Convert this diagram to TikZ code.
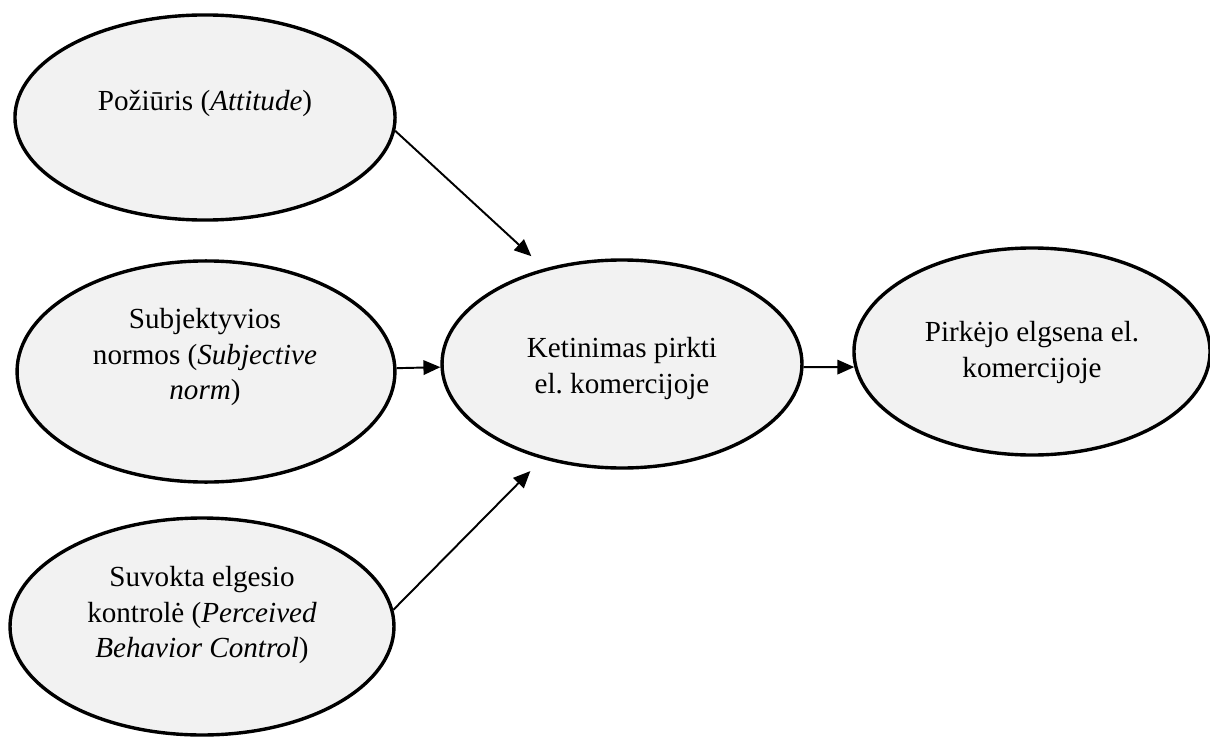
\documentclass[tikz,border=0pt]{standalone}
\usepackage{fontspec}
\setmainfont{Liberation Serif}
\usepackage{xcolor}
\usepackage{tikz}
\usetikzlibrary{shapes.geometric, arrows.meta, positioning}
\definecolor{ovalgray}{RGB}{242,242,242}

\begin{document}
\begin{tikzpicture}[
    x=0.412pt, y=-0.412pt,
    oval/.style={ellipse, draw, line width=1.4pt, fill=ovalgray, inner sep=0pt},
    txt/.style={align=center, inner sep=0pt, font=\fontsize{12pt}{14.6pt}\selectfont},
    arr/.style={-{Triangle[length=7pt,width=6pt]}, line width=0.8pt}
]
\useasboundingbox (0,0) rectangle (1210,737);

% Left column: the three factors
\node[oval, minimum width=156.6pt, minimum height=84.5pt] (att) at (205,117.5) {};
\node[oval, minimum width=155.7pt, minimum height=91.1pt] (sn)  at (206,371.5) {};
\node[oval, minimum width=158.2pt, minimum height=89.4pt] (pbc) at (202,626.5) {};

% Intention and behaviour
\node[oval, minimum width=148.3pt, minimum height=85.7pt] (int) at (622,364) {};
\node[oval, minimum width=146.7pt, minimum height=85.3pt] (beh) at (1032,351.5) {};

% Texts
\node[txt] (att-t) at (205,103)   {Požiūris (\textit{Attitude})};
\node[txt] (sn-t)  at (205,357)   {Subjektyvios\\normos (\textit{Subjective}\\\textit{norm})};
\node[txt] (pbc-t) at (202,615)   {Suvokta elgesio\\kontrolė (\textit{Perceived}\\\textit{Behavior Control})};
\node[txt] (int-t) at (622,368.5) {Ketinimas pirkti\\el.\ komercijoje};
\node[txt] (beh-t) at (1032,352.5){Pirkėjo elgsena el.\\komercijoje};

% Arrows
\draw[arr, shorten >=7.4pt] (att.-4) -- (int.129);
\draw[arr] (sn.1) -- (int.181);
\draw[arr, shorten >=7pt] (pbc.5) -- (int.230);
\draw[arr] (int.-1) -- (beh.185);
\end{tikzpicture}
\end{document}
